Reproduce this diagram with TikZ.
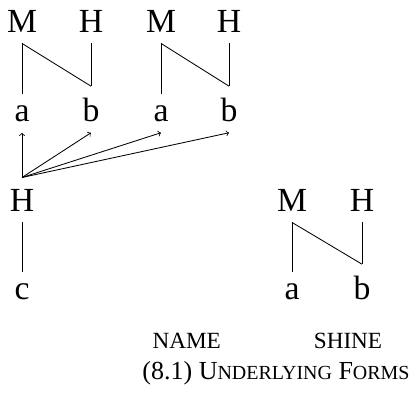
\documentclass[tikz,border=0pt]{standalone}
\usepackage{fontspec}
\setmainfont{Liberation Serif}
\usepackage{tikz}
\newcommand{\smcp}[1]{{\fontsize{14.2}{16}\selectfont #1}}

\begin{document}
\begin{tikzpicture}[line width=0.6pt,
	tone/.style = {inner xsep=0pt, inner ysep=0.275cm, anchor=base, font=\fontsize{24}{28}\selectfont},
	gloss/.style = {inner sep=0pt, anchor=base, font=\fontsize{16.5}{20}\selectfont}]
	\useasboundingbox (0,0) rectangle (10.45,-9.925);

	\node[tone, xshift = 0.55cm, yshift = -0.8cm] (m1) {M};
	\node[tone, xshift = 2.275cm, yshift = -0.8cm] (h1) {H};
	\node[tone, xshift = 4.025cm, yshift = -0.8cm] (m2) {M};
	\node[tone, xshift = 5.725cm, yshift = -0.8cm] (h2) {H};
	\node[tone, xshift = 0.55cm, yshift = -3.025cm] (a1) {a};
	\node[tone, xshift = 2.275cm, yshift = -3.025cm] (b1) {b};
	\node[tone, xshift = 4.025cm, yshift = -3.025cm] (a2) {a};
	\node[tone, xshift = 5.725cm, yshift = -3.025cm] (b2) {b};

	\node[tone, xshift = 0.55cm, yshift = -5.275cm] (h3) {H};
	\node[tone, xshift = 0.55cm, yshift = -7.475cm] (c1) {c};

	\node[tone, xshift = 7.3cm, yshift = -5.275cm] (m3) {M};
	\node[tone, xshift = 9.05cm, yshift = -5.275cm] (h4) {H};
	\node[tone, xshift = 7.3cm, yshift = -7.475cm] (a3) {a};
	\node[tone, xshift = 9.05cm, yshift = -7.475cm] (b3) {b};

	\node[gloss, xshift = 4.667cm, yshift = -8.7cm] (name) {NAME};
	\node[gloss, xshift = 8.7cm, yshift = -8.7cm] (shine) {SHINE};
	\node[gloss, font=\fontsize{18.5}{22}\selectfont, xshift = 6.9cm, yshift = -9.475cm] (cap) {(8.1) U\smcp{NDERLYING} F\smcp{ORMS}};

	\draw (m1.south) -- (a1.north);
	\draw (m1.south) -- (b1.north);
	\draw (h1.south) -- (b1.north);
	\draw (m2.south) -- (a2.north);
	\draw (m2.south) -- (b2.north);
	\draw (h2.south) -- (b2.north);

	\draw[->] (h3.north) -- (a1.south);
	\draw[->] (h3.north) -- (b1.south);
	\draw[->] (h3.north) -- (a2.south);
	\draw[->] (h3.north) -- (b2.south);
	\draw (h3.south) -- (c1.north);

	\draw (m3.south) -- (a3.north);
	\draw (m3.south) -- (b3.north);
	\draw (h4.south) -- (b3.north);

	%	\draw[->] (h3.north) -- (c1.north);
\end{tikzpicture}
\end{document}
